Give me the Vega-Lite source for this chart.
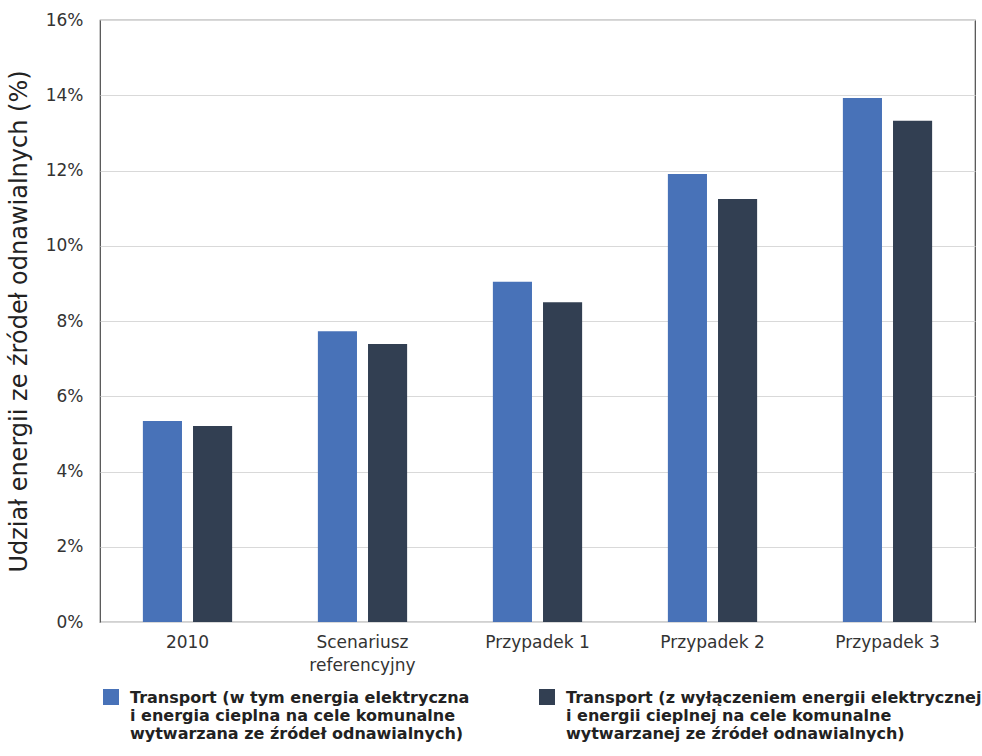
{
  "$schema": "https://vega.github.io/schema/vega-lite/v6.json",
  "width": 875,
  "height": 602,
  "autosize": {"type": "none"},
  "padding": {"left": 100, "top": 20, "right": 7, "bottom": 134},
  "background": "white",
  "config": {
    "font": "DejaVu Sans",
    "view": {"stroke": "#4a4a4a", "strokeWidth": 1.2},
    "axis": {"domain": false, "ticks": false}
  },
  "data": {
    "values": [
      {"kategoria": "2010", "seria": "z energią elektryczną i cieplną", "udzial": 0.0534},
      {"kategoria": "2010", "seria": "bez energii elektrycznej i cieplnej", "udzial": 0.0521},
      {"kategoria": "Scenariusz referencyjny", "seria": "z energią elektryczną i cieplną", "udzial": 0.0773},
      {"kategoria": "Scenariusz referencyjny", "seria": "bez energii elektrycznej i cieplnej", "udzial": 0.0739},
      {"kategoria": "Przypadek 1", "seria": "z energią elektryczną i cieplną", "udzial": 0.0904},
      {"kategoria": "Przypadek 1", "seria": "bez energii elektrycznej i cieplnej", "udzial": 0.0850},
      {"kategoria": "Przypadek 2", "seria": "z energią elektryczną i cieplną", "udzial": 0.1191},
      {"kategoria": "Przypadek 2", "seria": "bez energii elektrycznej i cieplnej", "udzial": 0.1124},
      {"kategoria": "Przypadek 3", "seria": "z energią elektryczną i cieplną", "udzial": 0.1393},
      {"kategoria": "Przypadek 3", "seria": "bez energii elektrycznej i cieplnej", "udzial": 0.1332}
    ]
  },
  "mark": {"type": "bar"},
  "encoding": {
    "x": {
      "field": "kategoria",
      "type": "nominal",
      "sort": null,
      "scale": {"paddingInner": 0.49, "paddingOuter": 0.245},
      "axis": {
        "title": null,
        "labelAngle": 0,
        "labelFontSize": 17,
        "labelColor": "#333333",
        "labelPadding": 12,
        "labelLineHeight": 23,
        "labelExpr": "datum.label == 'Scenariusz referencyjny' ? ['Scenariusz', 'referencyjny'] : datum.label",
        "grid": false
      }
    },
    "xOffset": {
      "field": "seria",
      "type": "nominal",
      "sort": null,
      "scale": {"paddingInner": 0.22, "paddingOuter": 0}
    },
    "y": {
      "field": "udzial",
      "type": "quantitative",
      "scale": {"domain": [0, 0.16], "nice": false},
      "axis": {
        "title": "Udział energii ze źródeł odnawialnych (%)",
        "titleFontSize": 24,
        "titleFontWeight": "normal",
        "titleColor": "#222222",
        "titlePadding": 14,
        "format": ".0%",
        "values": [0, 0.02, 0.04, 0.06, 0.08, 0.1, 0.12, 0.14, 0.16],
        "labelFontSize": 17,
        "labelColor": "#333333",
        "labelPadding": 17,
        "gridColor": "#d9d9d9",
        "gridWidth": 1
      }
    },
    "color": {
      "field": "seria",
      "type": "nominal",
      "sort": null,
      "scale": {"range": ["#4872b8", "#323f52"]},
      "legend": {
        "title": null,
        "orient": "none",
        "legendX": 3,
        "legendY": 662,
        "direction": "horizontal",
        "columns": 2,
        "columnPadding": 69,
        "symbolType": "M-1,-0.125H1V1.875H-1Z",
        "symbolSize": 256,
        "symbolStrokeWidth": 0,
        "symbolOpacity": 1,
        "labelFontSize": 16,
        "labelFontWeight": "bold",
        "labelColor": "#222222",
        "labelLimit": 500,
        "labelOffset": 11,
        "labelLineHeight": 18,
        "labelBaseline": "top",
        "labelExpr": "datum.label == 'z energią elektryczną i cieplną' ? ['Transport (w tym energia elektryczna', 'i energia cieplna na cele komunalne', 'wytwarzana ze źródeł odnawialnych)'] : ['Transport (z wyłączeniem energii elektrycznej', 'i energii cieplnej na cele komunalne', 'wytwarzanej ze źródeł odnawialnych)']"
      }
    }
  }
}
